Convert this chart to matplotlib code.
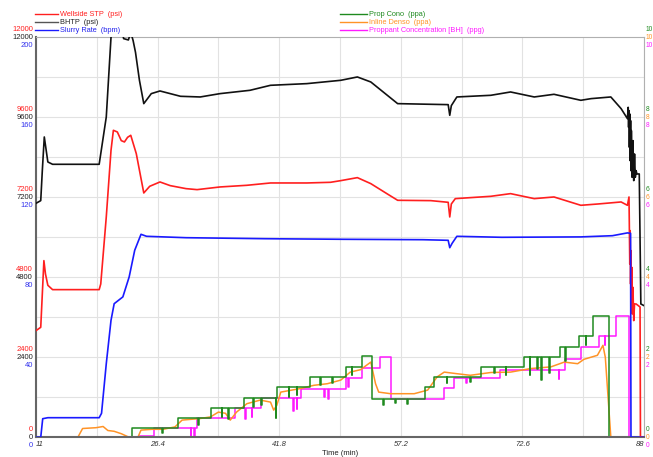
import numpy as np
import matplotlib
matplotlib.use("Agg")
import matplotlib.pyplot as plt
from matplotlib.lines import Line2D
from matplotlib.transforms import offset_copy

plt.rcParams['font.family'] = ['Liberation Sans', 'DejaVu Sans']

# ---- donnees (temps en min) ----
# Wellside STP (psi)
red_t = [11, 11.6, 11.8, 12.0, 12.2, 12.5, 13.1, 19.0, 19.2, 19.9, 20.5, 20.8, 21.3, 21.8, 22.2, 22.6, 23.0,
         23.7, 24.65, 25.4, 26.7, 28.0, 30.0, 31.4, 34.3, 37.7, 40.7, 45.3, 48.3, 49.6, 51.7, 53.4, 55.5,
         56.8, 61.0, 63.2, 63.4, 63.6, 64.1, 68.6, 71.1, 74.1, 76.6, 80.0, 82.2, 85.1, 85.9, 86.1,
         86.2, 86.25, 86.3, 86.35, 86.4, 86.45, 86.5, 86.6, 86.7, 86.8, 87.0, 87.5, 87.55, 88]
red_v = [3200, 3300, 4300, 5300, 4900, 4560, 4430, 4430, 4600, 6610, 8610, 9210, 9160, 8900, 8860, 9000, 9060,
         8510, 7330, 7530, 7660, 7550, 7460, 7430, 7510, 7560, 7630, 7630, 7650, 7700, 7790, 7610, 7300,
         7110, 7100, 7050, 6610, 7000, 7160, 7230, 7310, 7160, 7210, 6960, 7000, 7060, 6960, 7210,
         5200, 6200, 4600, 5600, 4200, 5100, 3700, 4500, 3500, 4000, 4000, 3910, 0, 0]

# BHTP (psi)
blk_t = [11, 11.6, 11.8, 12.05, 12.5, 13.1, 19.0, 19.9, 20.5, 21.0, 21.8, 22.1, 22.7, 23.0, 23.3, 23.6,
         24.1, 24.65, 25.6, 26.7, 29.3, 31.8, 34.3, 38.1, 40.7, 45.3, 49.6, 51.7, 53.4, 56.8, 61.0,
         63.2, 63.4, 63.6, 64.3, 68.6, 71.1, 74.1, 76.6, 80.0, 81.3, 83.8, 85.1, 85.9,
         86.0, 86.05, 86.1, 86.15, 86.2, 86.25, 86.3, 86.35, 86.4, 86.5, 86.6, 86.7, 86.8, 86.9, 87.0,
         87.1, 87.4, 87.6, 88]
blk_v = [7020, 7100, 8000, 9010, 8260, 8190, 8190, 9610, 12000, 12600, 12300, 11960, 11920, 12150, 11900, 11550,
         10710, 10010, 10310, 10390, 10230, 10210, 10310, 10410, 10560, 10610, 10710, 10810, 10660, 10010, 9990,
         9980, 9660, 9950, 10210, 10260, 10360, 10210, 10290, 10110, 10160, 10210, 9860, 9560,
         9900, 9300, 9800, 8700, 9700, 8300, 9500, 8000, 9200, 7800, 8900, 7700, 8500, 7800, 8000,
         7900, 7900, 4000, 3950]

# Slurry Rate (bpm)
blu_t = [11, 11.6, 11.85, 12.5, 19.0, 19.3, 19.9, 20.5, 20.9, 22.0, 22.8, 23.5, 24.3, 25.0, 30, 40, 50, 60,
         63.2, 63.4, 63.7, 64.3, 70, 80, 84, 85.9, 86.3, 86.35, 88]
blu_v = [0, 0, 9.3, 9.8, 9.8, 12, 36.8, 58.5, 66.8, 70.2, 80.2, 93.5, 101.5, 100.5, 99.8, 99.3, 99.0, 98.8,
         98.5, 94.8, 97, 100.5, 100, 100.2, 100.8, 102.2, 102, 0, 0]

# Inline Denso (ppa)
org_t = [11, 16.3, 16.9, 18.6, 19.5, 20.1, 20.9, 21.8, 22.8, 23.9, 24.3, 25.7, 27.1, 28.6, 29.5, 31.8,
         33.1, 34.1, 35.0, 35.6, 36.4, 37.7, 39.4, 40.7, 41.1, 41.5, 42.0, 44.5, 46.2, 47.9, 49.6,
         50.8, 52.1, 53.4, 54.0, 54.4, 55.9, 58.9, 60.6, 61.8, 62.7, 64.3, 66.0, 68.6, 71.1, 73.7,
         76.2, 77.9, 79.6, 80.4, 82.1, 82.8, 83.1, 83.8, 88]
org_v = [0, 0, 0.22, 0.24, 0.27, 0.17, 0.15, 0.09, 0, 0, 0.18, 0.2, 0.2, 0.26, 0.43, 0.47,
         0.51, 0.63, 0.6, 0.43, 0.63, 0.84, 0.93, 0.88, 0.68, 0.8, 1.13, 1.22, 1.3, 1.34, 1.43,
         1.63, 1.69, 1.88, 1.34, 1.13, 1.09, 1.09, 1.18, 1.51, 1.63, 1.59, 1.55, 1.62, 1.63, 1.72,
         1.76, 1.88, 1.84, 1.95, 2.05, 2.3, 2.0, 0, 0]

# Prop Cono (ppa) - paliers
grn_t = [11, 23.1, 29.0, 33.1, 37.3, 41.5, 45.7, 50.2, 52.3, 53.6, 60.3, 61.4, 67.3, 72.8, 77.3, 79.8, 81.5, 83.6, 88]
grn_v = [0, 0.23, 0.49, 0.74, 0.99, 1.26, 1.51, 1.76, 2.03, 0.97, 1.26, 1.51, 1.76, 2.01, 2.26, 2.53, 3.03, 0, 0]
grn_dip_t = [27.0, 31.5, 34.5, 35.3, 38.5, 39.5, 41.35, 43.0, 44.0, 47.0, 48.5, 51.0, 55.0, 56.5, 58.0,
             63.0, 66.0, 69.0, 70.5, 73.5, 74.5, 75.0, 76.0, 78.0, 80.6]
grn_dip_v = [0.1, 0.3, 0.5, 0.45, 0.75, 0.8, 0.48, 1.0, 1.05, 1.3, 1.35, 1.55, 0.82, 0.85, 0.83,
             1.35, 1.38, 1.6, 1.55, 1.55, 1.7, 1.43, 1.6, 1.9, 2.3]

# Proppant Concentration [BH] (ppg) - paliers
mag_t = [11, 24.0, 26.0, 31.4, 36.2, 39.5, 44.5, 50.2, 52.3, 54.6, 55.9, 62.7, 64.0, 69.8, 78.0, 80.0, 82.3, 84.4, 86.1, 88]
mag_v = [0, 0.04, 0.23, 0.49, 0.74, 0.99, 1.22, 1.49, 1.74, 2.0, 0.97, 1.24, 1.49, 1.68, 1.97, 2.27, 2.53, 3.03, 0, 0]
mag_dip_t = [30.6, 31.0, 37.5, 38.3, 43.6, 44.0, 47.5, 48.0, 50.5, 65.5, 77.2, 83.0]
mag_dip_v = [0.0, 0.0, 0.45, 0.5, 0.65, 0.7, 1.0, 0.95, 1.25, 1.35, 1.45, 2.3]

x_ticks = [11, 26.4, 41.8, 57.2, 72.6, 88]
x_labels = ['11', '26.4', '41.8', '57.2', '72.6', '88']
psi_ticks = [0, 2400, 4800, 7200, 9600, 12000]
bpm_ticks = [0, 40, 80, 120, 160, 200]
ppa_ticks = [0, 2, 4, 6, 8, 10]

C_RED = '#ff1f1f'
C_BLK = '#111111'
C_BLU = '#1a1aff'
C_GRN = '#1f8a1f'
C_ORG = '#ff9326'
C_MAG = '#ff1aff'


def with_dips(st, sv, dt, dv, w=0.08):
    # ajoute des petits pics vers le bas sur une serie en paliers
    pts = list(zip(st, sv))
    for t, d in zip(dt, dv):
        base = sv[np.searchsorted(st, t, side='right') - 1]
        pts.append((t, d))
        pts.append((t + w, base))
    pts.sort()
    return [p[0] for p in pts], [p[1] for p in pts]


fig = plt.figure(figsize=(6.53, 4.57), dpi=100)
W, H = 653, 457
ax = fig.add_axes([36 / W, 1 - 437.3 / H, 608 / W, 400 / H])
ax_psi = ax.twinx()
ax_bpm = ax.twinx()

# grille
for k in range(11):
    ax.axvline(11 + 7.7 * k, color='#e2e2e2', lw=0.8, zorder=0)
for k in range(1, 10):
    ax.axhline(k, color='#e2e2e2', lw=0.8, zorder=0)

# proppant
mt, mv = with_dips(mag_t, mag_v, mag_dip_t, mag_dip_v)
ax.plot(mt, mv, color=C_MAG, lw=1.1, drawstyle='steps-post')
ax.plot(org_t, org_v, color=C_ORG, lw=1.1)
gt, gv = with_dips(grn_t, grn_v, grn_dip_t, grn_dip_v)
ax.plot(gt, gv, color=C_GRN, lw=1.1, drawstyle='steps-post')

# pressions et debit
ax_psi.plot(red_t, red_v, color=C_RED, lw=1.2)
ax_psi.plot(blk_t, blk_v, color=C_BLK, lw=1.2)
ax_bpm.plot(blu_t, blu_v, color=C_BLU, lw=1.2)

ax.set_xlim(11, 88)
ax.set_ylim(0, 10)
ax_psi.set_ylim(0, 12000)
ax_bpm.set_ylim(0, 200)

for a in (ax, ax_psi, ax_bpm):
    a.set_yticks([])
    a.tick_params(length=0)
for a in (ax_psi, ax_bpm):
    for s in a.spines.values():
        s.set_visible(False)
ax.spines['left'].set_color('#666666')
ax.spines['bottom'].set_color('#666666')
ax.spines['left'].set_linewidth(1.5)
ax.spines['bottom'].set_linewidth(1.5)
ax.spines['top'].set_color('#b0b0b0')
ax.spines['right'].set_color('#b0b0b0')

ax.set_xticks(x_ticks)
ax.set_xticklabels(x_labels, fontsize=5.5, style='italic', color='#333333')
ax.tick_params(axis='x', pad=3)
xl = ax.get_xticklabels()
xl[0].set_ha('left')
xl[-1].set_ha('right')
ax.set_xlabel('Time (min)', fontsize=5.5, color='#222222', labelpad=1)

# etiquettes empilees gauche / droite
fs = 5.5
for i in range(6):
    yf = i / 5
    for lab, col, dy in ((str(psi_ticks[i]), C_RED, 8), (str(psi_ticks[i]), '#222222', 0), (str(bpm_ticks[i]), '#3333ee', -8)):
        tr = offset_copy(ax.transAxes, fig=fig, x=-3, y=dy, units='dots')
        ax.text(0, yf, lab, transform=tr, ha='right', va='center', fontsize=fs, color=col, clip_on=False)
    for col, dy in ((C_GRN, 8), (C_ORG, 0), (C_MAG, -8)):
        tr = offset_copy(ax.transAxes, fig=fig, x=2, y=dy, units='dots')
        ax.text(1, yf, str(ppa_ticks[i]), transform=tr, ha='left', va='center', fontsize=4.8, color=col, clip_on=False)

# legendes du haut
leg_left = [('Wellside STP  (psi)', C_RED, C_RED), ('BHTP  (psi)', '#555555', '#222222'), ('Slurry Rate  (bpm)', C_BLU, '#2222ee')]
leg_right = [('Prop Cono  (ppa)', C_GRN, C_GRN), ('Inline Denso  (ppa)', C_ORG, C_ORG),
             ('Proppant Concentration [BH]  (ppg)', C_MAG, C_MAG)]
for x0, x1, items in ((35, 58, leg_left), (340, 367, leg_right)):
    for j, (txt, lc, tc) in enumerate(items):
        py = 14 + 8 * j
        fig.add_artist(Line2D([x0 / W, x1 / W], [1 - py / H, 1 - py / H], color=lc, lw=1.0))
        fig.text((x1 + 2) / W, 1 - py / H, txt, ha='left', va='center', fontsize=5.3, color=tc)

fig.savefig('out.png', dpi=100)
